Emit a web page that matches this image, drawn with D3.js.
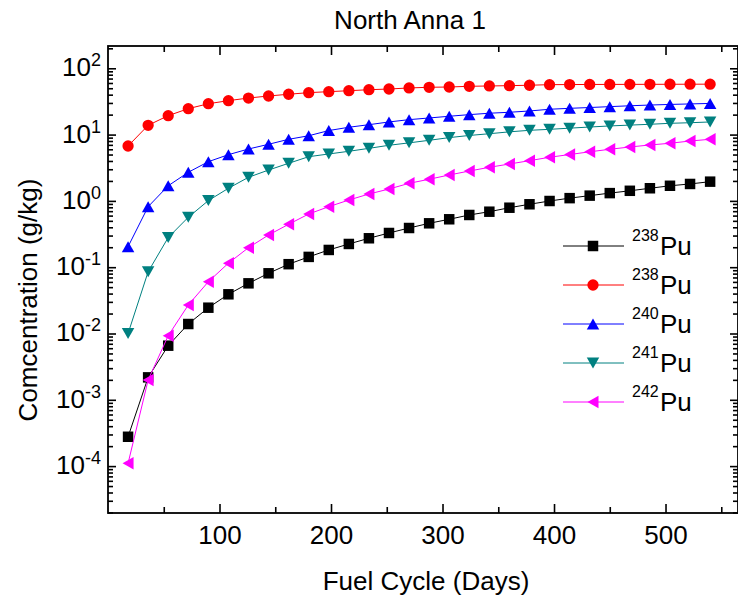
<!DOCTYPE html>
<html>
<head>
<meta charset="utf-8">
<script src="https://cdn.jsdelivr.net/npm/d3@7"></script>
<style>
  body { margin: 0; background: #fff; }
  svg { display: block; }
  text { font-family: Arial, "Liberation Sans", sans-serif; fill: #000; }
</style>
</head>
<body>
<svg id="chart" width="738" height="596"></svg>
<script>
// Fuel cycle time (days)
const days = [18, 36, 54, 72, 90, 108, 126, 144, 162, 180, 198, 216, 234, 252, 270,
              288, 306, 324, 342, 360, 378, 396, 414, 432, 450, 468, 486, 504, 522, 540];

// Plutonium isotope concentrations (g/kg)
const pu238 = [2.77e-4, 2.18e-3, 6.55e-3, 0.0139, 0.0245, 0.039, 0.0571, 0.0809, 0.111, 0.143,
               0.182, 0.224, 0.273, 0.328, 0.390, 0.459, 0.528, 0.613, 0.687, 0.789,
               0.889, 0.996, 1.10, 1.20, 1.31, 1.42, 1.55, 1.69, 1.80, 1.95];
const pu239 = [6.73, 13.8, 19.3, 24.6, 29.2, 32.5, 35.6, 38.2, 40.6, 42.9,
               44.4, 45.9, 47.5, 48.7, 50.5, 51.7, 52.2, 53.5, 54.1, 54.7,
               55.5, 56.6, 56.8, 57.0, 57.1, 57.2, 57.3, 57.4, 57.5, 57.6];
const pu240 = [0.204, 0.818, 1.69, 2.70, 3.90, 4.98, 6.06, 7.14, 8.49, 9.6,
               11.5, 12.9, 14.1, 15.5, 16.8, 17.8, 18.9, 20.0, 21.0, 21.7,
               22.7, 24.1, 24.9, 25.6, 26.4, 27.2, 27.9, 28.5, 29.0, 29.5];
const pu241 = [0.0100, 0.0855, 0.28, 0.566, 1.01, 1.55, 2.27, 2.92, 3.69, 4.64,
               5.1, 5.6, 6.2, 6.9, 7.5, 8.2, 9.0, 9.7, 10.3, 11.0,
               11.6, 12.0, 12.5, 13.0, 13.5, 13.9, 14.3, 14.8, 15.1, 15.5];
const pu242 = [1.10e-4, 1.99e-3, 9.27e-3, 0.0269, 0.0604, 0.115, 0.197, 0.306, 0.444, 0.634,
               0.818, 1.03, 1.27, 1.51, 1.84, 2.12, 2.46, 2.82, 3.21, 3.60,
               4.04, 4.55, 5.0, 5.5, 6.0, 6.5, 6.97, 7.39, 8.0, 8.49];

// Legend labels: mass number + element
const massNumbers = ["238", "238", "240", "241", "242"];
const element = "Pu";
const colors = ["#000000", "#ff0000", "#0000ff", "#008080", "#ff00ff"];
const shapes = ["square", "circle", "triangleUp", "triangleDown", "triangleLeft"];

// Axis ticks
const xMajorTicks = [100, 200, 300, 400, 500];
const xMinorTicks = [50, 150, 250, 350, 450, 550];
const yExponents = [-4, -3, -2, -1, 0, 1, 2];

const title = "North Anna 1";
const xTitle = "Fuel Cycle (Days)";
const yTitle = "Comcentration (g/kg)";

const seriesValues = [pu238, pu239, pu240, pu241, pu242];
const series = seriesValues.map((vals, i) => ({
  mass: massNumbers[i], color: colors[i], shape: shapes[i],
  points: days.map((d, j) => ({ x: d, y: vals[j] }))
}));

// Layout
const plot = { left: 108, right: 738, top: 46, bottom: 513 };
const svg = d3.select("#chart");

const x = d3.scaleLinear().domain([0, 565]).range([plot.left, plot.right]);
const y = d3.scaleLog().domain([1.962e-5, 216.8]).range([plot.bottom, plot.top]);

// Marker path generator
function markerPath(shape) {
  const w = 12.5, h = 11;
  switch (shape) {
    case "square": return d3.symbol(d3.symbolSquare, 110)();
    case "circle": return d3.symbol(d3.symbolCircle, 100)();
    case "triangleUp": return `M0,${-h/2}L${w/2},${h/2}L${-w/2},${h/2}Z`;
    case "triangleDown": return `M0,${h/2}L${w/2},${-h/2}L${-w/2},${-h/2}Z`;
    case "triangleLeft": return `M${-h/2},0L${h/2},${-w/2}L${h/2},${w/2}Z`;
  }
}

// Minor log ticks
const yMinorTicks = [];
for (let e = -5; e <= 2; e++) {
  for (let k = 2; k <= 9; k++) {
    const v = k * Math.pow(10, e);
    if (v > y.domain()[0] && v < y.domain()[1]) yMinorTicks.push(v);
  }
}
const yMajorTicks = yExponents.map(e => Math.pow(10, e));

// Axes with inward ticks on all four sides
function drawAxis(axisGen, transform) {
  const g = svg.append("g").attr("transform", transform).call(axisGen);
  g.select(".domain").remove();
  g.selectAll("line").attr("stroke", "#000").attr("stroke-width", 1.6);
  return g;
}
const noLabel = () => "";
drawAxis(d3.axisBottom(x).tickValues(xMinorTicks).tickSize(-6).tickFormat(noLabel), `translate(0,${plot.bottom})`);
drawAxis(d3.axisTop(x).tickValues(xMinorTicks).tickSize(-6).tickFormat(noLabel), `translate(0,${plot.top})`);
drawAxis(d3.axisTop(x).tickValues(xMajorTicks).tickSize(-9).tickFormat(noLabel), `translate(0,${plot.top})`);
const xAxisG = drawAxis(d3.axisBottom(x).tickValues(xMajorTicks).tickSize(-9).tickPadding(12.5).tickFormat(d3.format("d")),
  `translate(0,${plot.bottom})`);
xAxisG.selectAll("text").attr("font-size", 26).attr("font-family", "Arial, 'Liberation Sans', sans-serif").attr("fill", "#000");

drawAxis(d3.axisLeft(y).tickValues(yMinorTicks).tickSize(-5).tickFormat(noLabel), `translate(${plot.left},0)`);
drawAxis(d3.axisLeft(y).tickValues(yMajorTicks).tickSize(-8).tickFormat(noLabel), `translate(${plot.left},0)`);
drawAxis(d3.axisRight(y).tickValues(yMinorTicks).tickSize(-5).tickFormat(noLabel), `translate(${plot.right},0)`);
drawAxis(d3.axisRight(y).tickValues(yMajorTicks).tickSize(-8).tickFormat(noLabel), `translate(${plot.right},0)`);

// Y tick labels as powers of ten
const yLabels = svg.append("g");
yExponents.forEach(e => {
  const t = yLabels.append("text")
    .attr("x", 101).attr("y", y(Math.pow(10, e)) + 8)
    .attr("text-anchor", "end").attr("font-size", 26);
  t.append("tspan").text("10");
  t.append("tspan").attr("font-size", 18).attr("dy", -10).text(e < 0 ? "-" + Math.abs(e) : String(e));
});

// Frame
svg.append("rect")
  .attr("x", plot.left).attr("y", plot.top)
  .attr("width", plot.right - plot.left).attr("height", plot.bottom - plot.top)
  .attr("fill", "none").attr("stroke", "#000").attr("stroke-width", 1.8);

// Series lines and markers
const line = d3.line().x(d => x(d.x)).y(d => y(d.y));
const seriesG = svg.append("g");
series.forEach(s => {
  const g = seriesG.append("g");
  g.append("path").datum(s.points).attr("d", line)
    .attr("fill", "none").attr("stroke", s.color).attr("stroke-width", 1);
  g.selectAll("path.marker").data(s.points).join("path")
    .attr("class", "marker")
    .attr("d", markerPath(s.shape))
    .attr("transform", d => `translate(${x(d.x)},${y(d.y)})`)
    .attr("fill", s.color);
});

// Legend
const legend = svg.append("g");
series.forEach((s, i) => {
  const cy = 246 + i * 39;
  legend.append("line").attr("x1", 563).attr("x2", 624).attr("y1", cy).attr("y2", cy)
    .attr("stroke", s.color).attr("stroke-width", 1);
  legend.append("path").attr("d", markerPath(s.shape))
    .attr("transform", `translate(593,${cy})`).attr("fill", s.color);
  legend.append("text").attr("x", 632).attr("y", cy - 5).attr("font-size", 16).text(s.mass);
  legend.append("text").attr("x", 660).attr("y", cy + 9).attr("font-size", 26).text(element);
});

// Titles
svg.append("text").attr("x", 410).attr("y", 29).attr("text-anchor", "middle")
  .attr("font-size", 26).text(title);
svg.append("text").attr("x", 426).attr("y", 590).attr("text-anchor", "middle")
  .attr("font-size", 26).text(xTitle);
svg.append("text").attr("transform", "translate(37,300) rotate(-90)")
  .attr("text-anchor", "middle").attr("font-size", 26).text(yTitle);
</script>
</body>
</html>
